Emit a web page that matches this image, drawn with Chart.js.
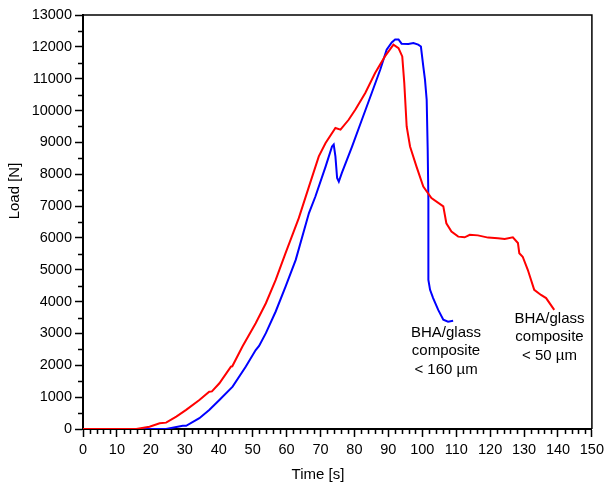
<!DOCTYPE html>
<html>
<head>
<meta charset="utf-8">
<script src="https://cdn.jsdelivr.net/npm/chart.js@4"></script>
<style>
  html, body { margin: 0; padding: 0; background: #fff; }
  #wrap { width: 608px; height: 484px; }
</style>
</head>
<body>
<div id="wrap"><canvas id="loadChart" width="608" height="484"></canvas></div>
<script>
// --- dados ---
const redTime = [0, 10, 15.7, 19.6, 22.6, 24.5, 27.5, 30.4, 34.3, 37.2, 38, 40.2, 43.6, 44, 47, 50.9, 53.9, 56.8, 59.7, 63.6, 66.6, 69.5, 71.5, 74.4, 75.9, 78.3, 80.3, 83.2, 86.1, 89, 91.5, 93, 94.1, 94.7, 95.4, 96.4, 98.3, 100.3, 102.7, 106.2, 107.1, 108.6, 110.6, 112.5, 114, 116.4, 119.4, 122.3, 124.3, 126.7, 128.2, 128.6, 129.6, 131.1, 133, 135, 136.5, 138.9];
const redLoad = [0, 0, 0, 70, 180, 200, 390, 600, 910, 1170, 1180, 1435, 1960, 1970, 2590, 3320, 3950, 4680, 5520, 6620, 7610, 8560, 8980, 9450, 9400, 9710, 10030, 10550, 11180, 11700, 12070, 11960, 11700, 10860, 9500, 8870, 8240, 7610, 7250, 6990, 6460, 6200, 6040, 6020, 6100, 6080, 6010, 5990, 5970, 6020, 5840, 5520, 5410, 5000, 4370, 4210, 4110, 3740];

const blueTime = [0, 24.5, 29.4, 30.4, 34.3, 37.2, 40.2, 44.1, 48, 50.9, 51.9, 53.9, 56.8, 59.7, 62.7, 66.6, 68.5, 71.5, 73.4, 73.9, 74.4, 74.9, 75.4, 76.3, 79.3, 82.2, 85.1, 87.6, 89.5, 91, 92, 93, 93.9, 95.9, 97.4, 98.8, 99.6, 100.3, 100.8, 101.3, 101.6, 101.8, 101.8, 101.8, 102.3, 103.2, 104.7, 106.2, 107.6, 109.1];
const blueLoad = [0, 0, 100, 100, 340, 600, 910, 1330, 1960, 2480, 2610, 3010, 3690, 4470, 5310, 6780, 7300, 8240, 8870, 8930, 8560, 7880, 7770, 8040, 8870, 9710, 10550, 11280, 11910, 12140, 12230, 12230, 12100, 12090, 12120, 12070, 12010, 11390, 10970, 10340, 8770, 7200, 5630, 4680, 4370, 4110, 3740, 3430, 3370, 3400];

// eixos
const xMin = 0, xMax = 150, xStep = 10, xMinorStep = 2;
const yMin = 0, yMax = 13000, yStep = 1000, yMinorStep = 500;
const xTitle = 'Time [s]';
const yTitle = 'Load [N]';

// rótulos das curvas
const blueLabel = ['BHA/glass', 'composite', '< 160 µm'];
const redLabel = ['BHA/glass', 'composite', '< 50 µm'];
const blueLabelPos = { x: 107, y: 3020 };
const redLabelPos = { x: 137.5, y: 3460 };

const FONT = 'Arial, "Liberation Sans", sans-serif';

function toPoints(xs, ys) {
    return xs.map((x, i) => ({ x: x, y: ys[i] }));
}

// ticks menores, moldura, títulos e rótulos
const extrasPlugin = {
    id: 'extras',
    afterDraw(chart) {
        const ctx = chart.ctx;
        const area = chart.chartArea;
        const xs = chart.scales.x;
        const ys = chart.scales.y;
        ctx.save();
        ctx.strokeStyle = '#000';
        ctx.lineWidth = 1.5;

        // moldura de cima e da direita
        ctx.beginPath();
        ctx.moveTo(area.left, area.top);
        ctx.lineTo(area.right, area.top);
        ctx.lineTo(area.right, area.bottom);
        ctx.stroke();

        // ticks menores
        ctx.beginPath();
        for (let v = xMin; v <= xMax; v += xMinorStep) {
            if (v % xStep === 0) continue;
            const px = Math.round(xs.getPixelForValue(v)) + 0.5;
            ctx.moveTo(px, area.bottom);
            ctx.lineTo(px, area.bottom + 5);
        }
        for (let v = yMin; v <= yMax; v += yMinorStep) {
            if (v % yStep === 0) continue;
            const py = Math.round(ys.getPixelForValue(v)) + 0.5;
            ctx.moveTo(area.left, py);
            ctx.lineTo(area.left - 5, py);
        }
        ctx.stroke();

        // títulos dos eixos
        ctx.fillStyle = '#000';
        ctx.font = '15px ' + FONT;
        ctx.textAlign = 'center';
        ctx.textBaseline = 'middle';
        ctx.fillText(xTitle, 318, 475);
        ctx.save();
        ctx.translate(15, 191);
        ctx.rotate(-Math.PI / 2);
        ctx.fillText(yTitle, 0, 0);
        ctx.restore();

        // rótulos das curvas
        const drawLabel = (lines, pos) => {
            const cx = xs.getPixelForValue(pos.x);
            const cy = ys.getPixelForValue(pos.y);
            lines.forEach((t, i) => ctx.fillText(t, cx, cy + i * 18.3));
        };
        drawLabel(blueLabel, blueLabelPos);
        drawLabel(redLabel, redLabelPos);
        ctx.restore();
    }
};

const ctx = document.getElementById('loadChart').getContext('2d');
new Chart(ctx, {
    type: 'line',
    data: {
        datasets: [
            {
                label: 'BHA/glass composite < 50 µm',
                data: toPoints(redTime, redLoad),
                borderColor: '#ff0000',
                borderWidth: 2,
                pointRadius: 0,
                tension: 0,
                fill: false
            },
            {
                label: 'BHA/glass composite < 160 µm',
                data: toPoints(blueTime, blueLoad),
                borderColor: '#0000ff',
                borderWidth: 2,
                pointRadius: 0,
                tension: 0,
                fill: false
            }
        ]
    },
    options: {
        responsive: false,
        animation: false,
        layout: { padding: { top: 15, right: 12, left: 0, bottom: 0 } },
        plugins: { legend: { display: false }, tooltip: { enabled: false } },
        scales: {
            x: {
                type: 'linear',
                min: xMin, max: xMax,
                afterFit: s => { s.height = 484 - 429; },
                ticks: { stepSize: xStep, color: '#000', font: { family: FONT, size: 14.5 }, padding: 4, maxRotation: 0, callback: v => String(v) },
                grid: { drawOnChartArea: false, tickLength: 8, tickWidth: 1.5, tickColor: '#000' },
                border: { display: true, color: '#000', width: 2 }
            },
            y: {
                type: 'linear',
                min: yMin, max: yMax,
                afterFit: s => { s.width = 83; },
                ticks: { stepSize: yStep, color: '#000', font: { family: FONT, size: 14.5 }, padding: 3, callback: v => String(v) },
                grid: { drawOnChartArea: false, tickLength: 8, tickWidth: 1.5, tickColor: '#000' },
                border: { display: true, color: '#000', width: 2 }
            }
        }
    },
    plugins: [extrasPlugin]
});
</script>
</body>
</html>
